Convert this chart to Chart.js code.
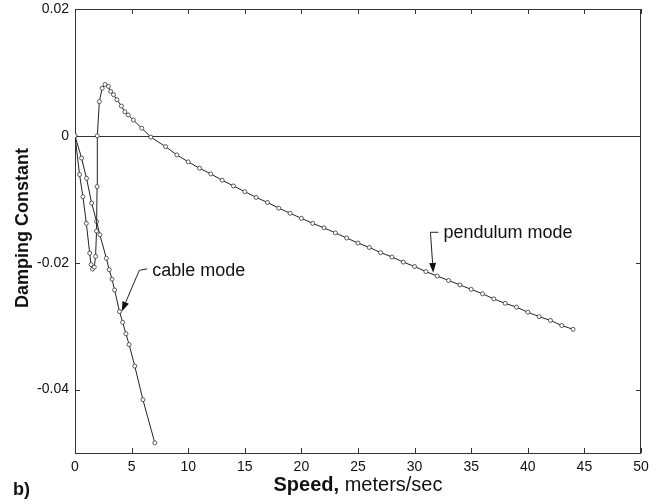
<!DOCTYPE html>
<html>

<head>
    <title>Damping Constant vs Speed</title>
    <script src="https://cdn.jsdelivr.net/npm/chart.js"></script>
    <style>
        body { margin: 0; background: #fff; }
    </style>
</head>

<body>
    <canvas id="chart" width="661" height="503"></canvas>

    <script>
        // Tick values for both axes
        const xTicks = [0, 5, 10, 15, 20, 25, 30, 35, 40, 45, 50];
        const yTicks = [-0.04, -0.02, 0, 0.02];

        // Pendulum mode
        const pendulumSpeed = [0, 0.4, 0.7, 1.0, 1.3, 1.42, 1.55, 1.7, 1.82, 1.9, 1.95, 1.97,
            2.15, 2.4, 2.65, 2.95, 3.15, 3.4, 3.7, 4.1, 4.4, 4.7, 5.15, 5.9, 6.7, 8, 9, 10, 11,
            12, 13, 14, 15, 16, 17, 18, 19, 20, 21, 22, 23, 24, 25, 26, 27, 28, 29, 30, 31, 32,
            33, 34, 35, 36, 37, 38, 39, 40, 41, 42, 43, 44];
        const pendulumDamping = [0, -0.0061, -0.0096, -0.0138, -0.0185, -0.0203, -0.0210, -0.0207, -0.0190, -0.0150, -0.0080, 0.0,
            0.0054, 0.0075, 0.0081, 0.0078, 0.0070, 0.0065, 0.0057, 0.0047, 0.0038, 0.0033, 0.0025, 0.0012, -0.0002, -0.0017, -0.0030, -0.0041, -0.0051,
            -0.0060, -0.0070, -0.0079, -0.0088, -0.0097, -0.0105, -0.0114, -0.0122, -0.0130, -0.0138, -0.0145, -0.0153, -0.0161, -0.0169, -0.0176, -0.0184, -0.0191, -0.0199, -0.0206, -0.0214, -0.0221,
            -0.0228, -0.0235, -0.0242, -0.0249, -0.0257, -0.0264, -0.0270, -0.0278, -0.0285, -0.0291, -0.0299, -0.0305];

        // Cable mode
        const cableSpeed = [0, 0.58, 1.02, 1.47, 1.91, 2.2, 2.77, 3.02, 3.27, 3.5, 3.93, 4.21, 4.5, 4.78, 5.28, 6.0, 7.05];
        const cableDamping = [0, -0.0035, -0.0067, -0.0106, -0.0135, -0.0156, -0.0193, -0.0211, -0.0226, -0.0243, -0.0277, -0.0294, -0.0312, -0.0329, -0.0363, -0.0416, -0.0484];

        const FONT = "'Liberation Sans', Arial, Helvetica, sans-serif";

        function toPoints(xs, ys) {
            return xs.map((x, i) => ({ x: x, y: ys[i] }));
        }

        // Frame, zero line, inward ticks, labels and arrows
        const decorations = {
            id: 'decorations',
            beforeDatasetsDraw(chart) {
                const { ctx, chartArea: a, scales: { x, y } } = chart;
                ctx.save();
                ctx.strokeStyle = '#333';
                ctx.lineWidth = 1;
                ctx.strokeRect(a.left + 0.5, a.top + 0.5, a.right - a.left - 1, a.bottom - a.top);

                // zero line
                const y0 = Math.round(y.getPixelForValue(0)) + 0.5;
                ctx.beginPath();
                ctx.moveTo(a.left, y0);
                ctx.lineTo(a.right, y0);
                ctx.stroke();

                // inward ticks
                const len = 5;
                ctx.beginPath();
                xTicks.forEach(v => {
                    const px = Math.round(x.getPixelForValue(v)) + 0.5;
                    ctx.moveTo(px, a.bottom); ctx.lineTo(px, a.bottom - len);
                    ctx.moveTo(px, a.top); ctx.lineTo(px, a.top + len);
                });
                yTicks.forEach(v => {
                    const py = Math.round(y.getPixelForValue(v)) + 0.5;
                    ctx.moveTo(a.left, py); ctx.lineTo(a.left + len, py);
                    ctx.moveTo(a.right, py); ctx.lineTo(a.right - len, py);
                });
                ctx.stroke();
                ctx.restore();
            },
            afterDraw(chart) {
                const { ctx, chartArea: a, scales: { x, y } } = chart;
                ctx.save();
                ctx.fillStyle = '#111';
                ctx.strokeStyle = '#222';
                ctx.lineWidth = 1;

                // pendulum mode label
                drawCallout(ctx, x, y, 31.4, -0.0152, 31.65, -0.0216, 'pendulum mode', 0);
                // cable mode label
                drawCallout(ctx, x, y, 5.68, -0.0212, 4.13, -0.0277, 'cable mode', -1.5);

                // y axis title
                ctx.save();
                ctx.translate(23, (a.top + a.bottom) / 2 - 3);
                ctx.rotate(-Math.PI / 2);
                ctx.font = 'bold 18px ' + FONT;
                ctx.textAlign = 'center';
                ctx.textBaseline = 'middle';
                ctx.fillText('Damping Constant', 0, 0);
                ctx.restore();

                // x axis title: bold "Speed," then normal text
                const boldPart = 'Speed,';
                const normalPart = ' meters/sec';
                ctx.font = 'bold 20px ' + FONT;
                const w1 = ctx.measureText(boldPart).width;
                ctx.font = '20px ' + FONT;
                const w2 = ctx.measureText(normalPart).width;
                const startX = (a.left + a.right) / 2 - (w1 + w2) / 2;
                ctx.textAlign = 'left';
                ctx.textBaseline = 'alphabetic';
                ctx.font = 'bold 20px ' + FONT;
                ctx.fillText(boldPart, startX, 491);
                ctx.font = '20px ' + FONT;
                ctx.fillText(normalPart, startX + w1, 491);

                // panel letter
                ctx.font = 'bold 18px ' + FONT;
                ctx.fillText('b)', 13, 495);
                ctx.restore();
            }
        };

        function drawCallout(ctx, x, y, kx, ky, tx, ty, text, dashRise) {
            const kpx = x.getPixelForValue(kx), kpy = y.getPixelForValue(ky);
            const tpx = x.getPixelForValue(tx), tpy = y.getPixelForValue(ty);
            // short dash leading to the text
            ctx.beginPath();
            ctx.moveTo(kpx, kpy);
            ctx.lineTo(kpx + 8, kpy + dashRise);
            ctx.stroke();
            // arrow shaft
            const ang = Math.atan2(tpy - kpy, tpx - kpx);
            const headLen = 10, headW = 3.5;
            const bx = tpx - headLen * Math.cos(ang), by = tpy - headLen * Math.sin(ang);
            ctx.beginPath();
            ctx.moveTo(kpx, kpy);
            ctx.lineTo(bx, by);
            ctx.stroke();
            // arrow head
            ctx.beginPath();
            ctx.moveTo(tpx, tpy);
            ctx.lineTo(bx + headW * Math.sin(ang), by - headW * Math.cos(ang));
            ctx.lineTo(bx - headW * Math.sin(ang), by + headW * Math.cos(ang));
            ctx.closePath();
            ctx.fill();
            // text
            ctx.font = '18px ' + FONT;
            ctx.textAlign = 'left';
            ctx.textBaseline = 'alphabetic';
            ctx.fillText(text, kpx + 13, kpy + 6);
        }

        const lineStyle = {
            showLine: true,
            borderColor: '#222',
            borderWidth: 1,
            pointRadius: 2,
            pointBorderWidth: 0.8,
            pointBorderColor: '#333',
            pointBackgroundColor: '#fff',
            tension: 0
        };

        const ctx = document.getElementById('chart').getContext('2d');
        const chart = new Chart(ctx, {
            type: 'scatter',
            data: {
                datasets: [
                    Object.assign({ label: 'pendulum mode', data: toPoints(pendulumSpeed, pendulumDamping) }, lineStyle),
                    Object.assign({ label: 'cable mode', data: toPoints(cableSpeed, cableDamping) }, lineStyle)
                ]
            },
            options: {
                responsive: false,
                animation: false,
                layout: { padding: { left: 0, right: 20, top: 9, bottom: 0 } },
                plugins: {
                    legend: { display: false },
                    tooltip: { enabled: false }
                },
                scales: {
                    x: {
                        type: 'linear',
                        min: 0,
                        max: 50,
                        afterBuildTicks: scale => { scale.ticks = xTicks.map(v => ({ value: v })); },
                        afterFit: scale => {
                            scale.height = 50;
                            scale.paddingLeft = 0;
                            scale.paddingRight = 0;
                        },
                        grid: { display: false, drawTicks: false },
                        border: { display: false },
                        ticks: {
                            padding: 6,
                            maxRotation: 0,
                            color: '#111',
                            font: { family: FONT, size: 14 },
                            callback: v => String(v)
                        }
                    },
                    y: {
                        min: -0.05,
                        max: 0.02,
                        afterBuildTicks: scale => { scale.ticks = yTicks.map(v => ({ value: v })); },
                        afterFit: scale => {
                            scale.width = 75;
                            scale.paddingTop = 0;
                            scale.paddingBottom = 0;
                        },
                        grid: { display: false, drawTicks: false },
                        border: { display: false },
                        ticks: {
                            padding: 6,
                            color: '#111',
                            font: { family: FONT, size: 14 },
                            callback: v => String(v)
                        }
                    }
                }
            },
            plugins: [decorations]
        });
    </script>
</body>

</html>
